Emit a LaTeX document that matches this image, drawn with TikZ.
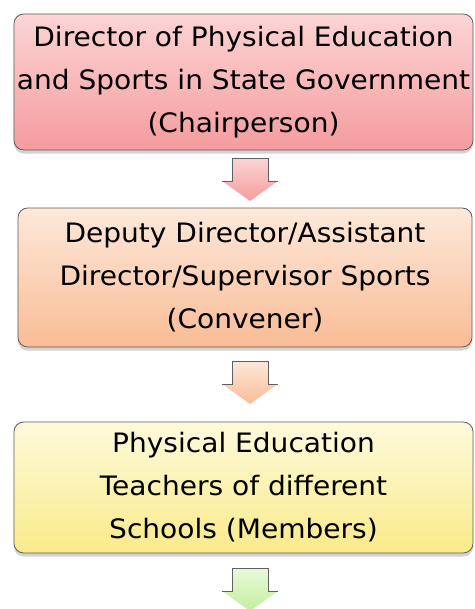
\documentclass[tikz,border=0pt]{standalone}
\usepackage{fontspec}
\setmainfont{DejaVu Sans}[FakeStretch=1.05]
\usetikzlibrary{shadows}
\definecolor{pinktop}{RGB}{252,212,212}
\definecolor{pinkbot}{RGB}{245,156,158}
\definecolor{peachtop}{RGB}{253,232,218}
\definecolor{peachbot}{RGB}{249,188,150}
\definecolor{yellowtop}{RGB}{254,250,220}
\definecolor{yellowbot}{RGB}{249,234,138}
\definecolor{greentop}{RGB}{232,249,218}
\definecolor{greenbot}{RGB}{196,238,156}
\definecolor{edgegray}{RGB}{95,95,95}
\tikzset{
  stagebox/.style={draw=edgegray, line width=0.6pt, rounded corners=7pt,
    align=center, inner sep=0pt, minimum width=11.475cm,
    font=\fontsize{19}{30.6}\selectfont,
    drop shadow={shadow xshift=0pt, shadow yshift=-2.5pt, opacity=0.35}},
  blockedge/.style={draw=gray!75!black, line width=0.7pt}
}
\begin{document}
\begin{tikzpicture}[x=0.025cm,y=-0.025cm]
  \useasboundingbox (0,0) rectangle (474,609);
  % the three stages
  \node (chair) [stagebox, minimum height=3.4cm, top color=pinktop, bottom color=pinkbot]
    at (243.5,82) {Director of Physical Education\\and Sports in State Government\\(Chairperson)};
  \node (convener) [stagebox, minimum height=3.475cm, minimum width=11.35cm,
    top color=peachtop, bottom color=peachbot]
    at (245,277.5) {Deputy Director/Assistant\\Director/Supervisor Sports\\(Convener)};
  \node (members) [stagebox, minimum height=3.275cm, top color=yellowtop, bottom color=yellowbot]
    at (243.5,487.5) {Physical Education\\Teachers of different\\Schools (Members)};
  % block arrows below each stage
  \foreach \ya/\ctop/\cbot in {158/pinktop/pinkbot, 361/peachtop/peachbot, 568/greentop/greenbot}{
    \shade[top color=\ctop, bottom color=\cbot]
      (232,\ya) -- (268,\ya) -- (268,\ya+23) -- (278,\ya+23) -- (250,\ya+43)
      -- (222,\ya+23) -- (232,\ya+23) -- cycle;
    \draw[blockedge] (222,\ya+23) -- (232,\ya+23) -- (232,\ya) -- (268,\ya)
      -- (268,\ya+23) -- (278,\ya+23);
  }
\end{tikzpicture}
\end{document}
